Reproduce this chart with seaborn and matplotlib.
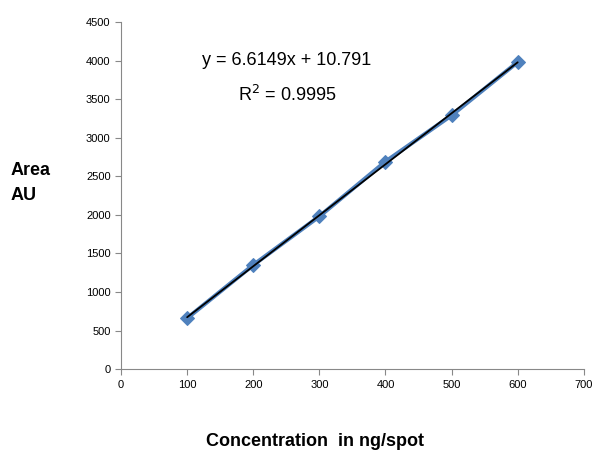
import numpy as np
import pandas as pd
import matplotlib
matplotlib.use("Agg")
import matplotlib.pyplot as plt
import seaborn as sns

sns.set_theme(style="white")
plt.rcParams['font.family'] = ['Liberation Sans', 'DejaVu Sans']
plt.rcParams['text.color'] = 'black'
plt.rcParams['xtick.color'] = 'black'
plt.rcParams['ytick.color'] = 'black'

# Datos
concentration = [100, 200, 300, 400, 500, 600]
area = [660, 1350, 1980, 2690, 3290, 3980]
x_ticks = [0, 100, 200, 300, 400, 500, 600, 700]
y_ticks = [0, 500, 1000, 1500, 2000, 2500, 3000, 3500, 4000, 4500]

df = pd.DataFrame({"Concentration": concentration, "Area": area})

fig = plt.figure(figsize=(6, 4.58), dpi=100)
ax = fig.add_axes([0.2017, 0.194, 0.7713, 0.758])

sns.lineplot(x="Concentration", y="Area", data=df, ax=ax, color="#4F81BD",
             marker="D", markersize=7, markeredgecolor="#4F81BD", linewidth=3)
sns.regplot(x="Concentration", y="Area", data=df, ax=ax, scatter=False, ci=None,
            truncate=True, color="black", line_kws={"linewidth": 1.3})

ax.set_xlim(0, 700)
ax.set_ylim(0, 4500)
ax.set_xticks(x_ticks)
ax.set_yticks(y_ticks)
ax.tick_params(axis="both", labelsize=8, direction="out", length=4, width=0.8,
               color="#888888", labelcolor="black", bottom=True, left=True)
for side in ["top", "right"]:
    ax.spines[side].set_visible(False)
for side in ["left", "bottom"]:
    ax.spines[side].set_color("#888888")
    ax.spines[side].set_linewidth(0.8)

ax.set_xlabel("")
ax.set_ylabel("")
fig.text(0.525, 0.035, "Concentration  in ng/spot", ha="center", va="center",
         fontsize=13, fontweight="bold", color="black")
fig.text(0.018, 0.60, "Area\nAU", ha="left", va="center", fontsize=13,
         fontweight="bold", linespacing=1.6, color="black")

ax.text(251, 4000, "y = 6.6149x + 10.791", ha="center", va="center", fontsize=13,
        color="black")
ax.text(251, 3550, "R$^2$ = 0.9995", ha="center", va="center", fontsize=13,
        color="black")

fig.savefig("out.png", dpi=100)
